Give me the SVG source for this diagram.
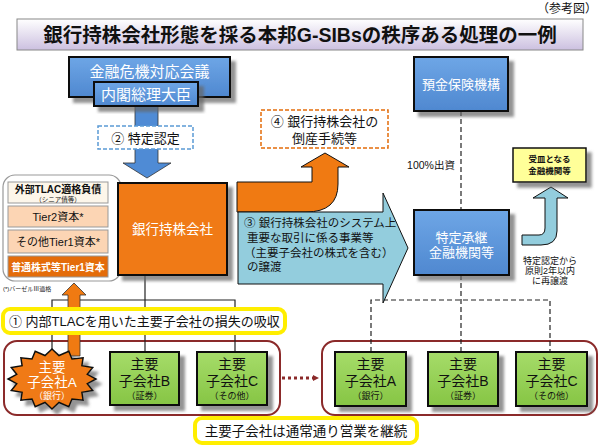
<svg xmlns="http://www.w3.org/2000/svg" width="600" height="446" viewBox="0 0 600 446">
<defs>
  <linearGradient id="gTitle" x1="0" y1="0" x2="0" y2="1">
    <stop offset="0" stop-color="#ffffff"/><stop offset="1" stop-color="#ccc0e0"/>
  </linearGradient>
  <linearGradient id="gBlue" x1="0" y1="0" x2="0" y2="1">
    <stop offset="0" stop-color="#6ea6e6"/><stop offset="1" stop-color="#4f88d0"/>
  </linearGradient>
  <linearGradient id="gGreen" x1="0" y1="0" x2="0" y2="1">
    <stop offset="0" stop-color="#a6dc6a"/><stop offset="1" stop-color="#86c544"/>
  </linearGradient>
  <filter id="sh" x="-20%" y="-20%" width="150%" height="150%">
    <feDropShadow dx="5" dy="5" stdDeviation="1.5" flood-color="#666" flood-opacity="0.7"/>
  </filter>
  <marker id="dotArrow" markerWidth="6" markerHeight="6" refX="5" refY="3" orient="auto" markerUnits="userSpaceOnUse">
    <path d="M0,0 L6,3 L0,6 Z" fill="#8b2a2a"/>
  </marker>
  <style>
    text{font-family:"Liberation Sans","Noto Sans CJK JP",sans-serif;}
    .w{fill:#fff;}
    .k{fill:#111;}
    .blue{fill:url(#gBlue);stroke:#111;stroke-width:2;filter:url(#sh);}
    .green{fill:url(#gGreen);stroke:#111;stroke-width:2;filter:url(#sh);}
    .orange{fill:#f07a12;stroke:#111;stroke-width:2;filter:url(#sh);}
    .ln{stroke:#222;stroke-width:1.2;fill:none;}
    .dash{stroke:#222;stroke-width:1.2;fill:none;stroke-dasharray:5,3;}
    .grp{fill:none;stroke:#8b2a2a;stroke-width:2;}
    .yel{fill:#fff;stroke:#ffee00;stroke-width:4;}
  </style>
</defs>

<!-- header -->
<text x="597" y="13" font-size="12" text-anchor="end" class="k">（参考図）</text>
<g id="title">
  <rect x="17" y="19" width="566" height="31" fill="url(#gTitle)" stroke="#888" stroke-width="1"/>
  <text x="300" y="41.5" font-size="19.5" font-weight="bold" text-anchor="middle" class="k">銀行持株会社形態を採る本邦G-SIBsの秩序ある処理の一例</text>
</g>

<!-- containers -->
<g id="group-left">
  <rect x="4" y="341" width="276" height="74" rx="13" class="grp"/>
</g>
<g id="group-right">
  <rect x="322" y="341" width="275" height="74" rx="13" class="grp"/>
</g>

<!-- connectors -->
<g id="connectors">
  <polyline class="ln" points="145,275 145,300"/>
  <polyline class="ln" points="52,355 52,300 235,300 235,352"/>
  <polyline class="ln" points="145,300 145,352"/>
  <line class="dash" x1="461" y1="111" x2="461" y2="210"/>
  <line class="dash" x1="461" y1="275" x2="461" y2="352"/>
  <polyline class="dash" points="371,352 371,300 550,300 550,352"/>
  <line x1="282" y1="378" x2="318" y2="378" stroke="#8b2a2a" stroke-width="3" stroke-dasharray="3,3" marker-end="url(#dotArrow)"/>
  <!-- block arrows -->
  <path d="M135,106 L158,106 L158,163 L171,163 L147,178 L123,163 L135,163 Z" fill="#4f8bd5" stroke="#333" stroke-width="0.8"/>
  <path d="M237,182 L312,182 L312,167 L301,167 L325,153 L349,167 L338,167 L338,184 Q338,212 306,212 L237,212 Z" fill="#f07a12" stroke="#111" stroke-width="1"/>
  <path d="M238,212 L383,212 L383,193 L408,248 L383,303 L383,284 L238,284 Z" fill="#93cddd" stroke="#111" stroke-width="1"/>
  <path d="M522,235 L539,235 Q545,235 545,228 L545,198 L533,198 L551,187 L568,198 L557,198 L557,231 Q557,245 541,245 L522,245 Z" fill="#93cddd" stroke="#111" stroke-width="1"/>
  <path d="M68,356 L68,295 L62,295 L74,283 L86,295 L80,295 L80,356 Z" fill="#f07a12" stroke="#333" stroke-width="0.8"/>
</g>

<!-- top-left authority -->
<g id="council">
  <rect x="69" y="57" width="161" height="40" class="blue"/>
  <text x="149.5" y="77" font-size="15" text-anchor="middle" class="w">金融危機対応会議</text>
</g>
<g id="pm">
  <rect x="94" y="82" width="104" height="24" class="blue"/>
  <text x="146" y="99.5" font-size="15" text-anchor="middle" class="w">内閣総理大臣</text>
</g>
<g id="designation">
  <rect x="98" y="126" width="95" height="23" fill="#fff" stroke="#5b9bd5" stroke-width="1.5" stroke-dasharray="4,2"/>
  <text x="145.5" y="143" font-size="13" text-anchor="middle" class="k">② 特定認定</text>
</g>

<!-- bankruptcy -->
<g id="bankruptcy">
  <rect x="261" y="110" width="127" height="38" fill="#fff" stroke="#e46c0a" stroke-width="1.5" stroke-dasharray="4,2"/>
  <text x="324.5" y="126" font-size="13" text-anchor="middle" class="k">④ 銀行持株会社の</text>
  <text x="324.5" y="143" font-size="13" text-anchor="middle" class="k">倒産手続等</text>
</g>

<!-- left capital stack -->
<g id="capital-stack">
  <rect x="3" y="175" width="118" height="106" rx="12" fill="#fff" stroke="#999" stroke-width="1.2"/>
  <rect x="8" y="182" width="100" height="21" fill="#fdf6ea" stroke="#999" stroke-width="1"/>
  <text x="58" y="193" font-size="10" font-weight="bold" text-anchor="middle" class="k">外部TLAC適格負債</text>
  <text x="58" y="201.5" font-size="6.5" text-anchor="middle" class="k">（シニア債等）</text>
  <rect x="8" y="206" width="100" height="21" fill="#fcd5b4" stroke="#999" stroke-width="1"/>
  <text x="58" y="221" font-size="11" text-anchor="middle" class="k">Tier2資本*</text>
  <rect x="8" y="230" width="100" height="23" fill="#fcd5b4" stroke="#999" stroke-width="1"/>
  <text x="58" y="245.5" font-size="11" text-anchor="middle" class="k">その他Tier1資本*</text>
  <rect x="8" y="256" width="100" height="21" fill="#e46c0a" stroke="#999" stroke-width="1"/>
  <text x="58" y="270.5" font-size="10" font-weight="bold" text-anchor="middle" class="w">普通株式等Tier1資本</text>
  <text x="3" y="291" font-size="6" class="k">(*)バーゼルⅢ適格</text>
</g>

<!-- holding company -->
<g id="holding">
  <rect x="118" y="183" width="109" height="92" class="orange"/>
  <text x="172.5" y="234" font-size="13.5" text-anchor="middle" class="w">銀行持株会社</text>
</g>

<!-- transfer text -->
<g id="transfer-label">
  <text x="244" y="227" font-size="11.5" class="k">③ 銀行持株会社のシステム上</text>
  <text x="247" y="242" font-size="11.5" class="k">重要な取引に係る事業等</text>
  <text x="244" y="256.5" font-size="11.5" class="k">（主要子会社の株式を含む）</text>
  <text x="247" y="271" font-size="11.5" class="k">の譲渡</text>
</g>

<!-- DICJ -->
<g id="dicj">
  <rect x="414" y="57" width="94" height="54" class="blue"/>
  <text x="461" y="88.5" font-size="13" text-anchor="middle" class="w">預金保険機構</text>
</g>
<text x="431" y="169" font-size="10.5" text-anchor="middle" class="k">100%出資</text>

<!-- bridge -->
<g id="bridge">
  <rect x="414" y="210" width="95" height="65" class="blue"/>
  <text x="461.5" y="242" font-size="13" text-anchor="middle" class="w">特定承継</text>
  <text x="461.5" y="257" font-size="13" text-anchor="middle" class="w">金融機関等</text>
</g>

<!-- acquirer -->
<g id="acquirer">
  <rect x="513" y="148" width="73" height="34" fill="#ffff99" stroke="#111" stroke-width="1.5" filter="url(#sh)"/>
  <text x="549.5" y="162" font-size="8.5" font-weight="bold" text-anchor="middle" class="k">受皿となる</text>
  <text x="549.5" y="174" font-size="8.5" font-weight="bold" text-anchor="middle" class="k">金融機関等</text>
</g>
<g id="retransfer-label">
  <text x="550" y="264" font-size="9" text-anchor="middle" class="k">特定認定から</text>
  <text x="550" y="274" font-size="9" text-anchor="middle" class="k">原則2年以内</text>
  <text x="550" y="284" font-size="9" text-anchor="middle" class="k">に再譲渡</text>
</g>

<!-- loss absorption label -->
<g id="loss-absorption">
  <rect x="3" y="309" width="282" height="24" rx="7" class="yel"/>
  <text x="9" y="326" font-size="13" class="k">① 内部TLACを用いた主要子会社の損失の吸収</text>
</g>

<!-- left subsidiaries -->
<g id="subA-left">
  <polygon points="96,379 87.3,383.7 92.7,390.5 81.9,392.3 83.1,400.2 72,399 68.8,406.7 59,402.5 52,409 45,402.5 35.2,406.7 32,399 20.9,400.2 22.1,392.3 11.3,390.5 16.7,383.7 8,379 16.7,374.3 11.3,367.5 22.1,365.7 20.9,357.8 32,359 35.2,351.3 45,355.5 52,349 59,355.5 68.8,351.3 72,359 83.1,357.8 81.9,365.7 92.7,367.5 87.3,374.3" fill="#f07a12" stroke="#111" stroke-width="1.5" filter="url(#sh)"/>
  <text x="52" y="372" font-size="13.5" text-anchor="middle" class="w">主要</text>
  <text x="52" y="387" font-size="13.5" text-anchor="middle" class="w">子会社A</text>
  <text x="52" y="399" font-size="9" text-anchor="middle" class="w">（銀行）</text>
</g>
<g id="subB-left">
  <rect x="110" y="352" width="69" height="53" class="green"/>
  <text x="144.5" y="369" font-size="14" text-anchor="middle" class="k">主要</text>
  <text x="144.5" y="386" font-size="14" text-anchor="middle" class="k">子会社B</text>
  <text x="144.5" y="399" font-size="9" text-anchor="middle" class="k">（証券）</text>
</g>
<g id="subC-left">
  <rect x="197" y="352" width="70" height="53" class="green"/>
  <text x="232" y="369" font-size="14" text-anchor="middle" class="k">主要</text>
  <text x="232" y="386" font-size="14" text-anchor="middle" class="k">子会社C</text>
  <text x="232" y="399" font-size="9" text-anchor="middle" class="k">（その他）</text>
</g>

<!-- right subsidiaries -->
<g id="subA-right">
  <rect x="335" y="352" width="71" height="54" class="green"/>
  <text x="370.5" y="369" font-size="14" text-anchor="middle" class="k">主要</text>
  <text x="370.5" y="386" font-size="14" text-anchor="middle" class="k">子会社A</text>
  <text x="370.5" y="399" font-size="9" text-anchor="middle" class="k">（銀行）</text>
</g>
<g id="subB-right">
  <rect x="428" y="352" width="70" height="54" class="green"/>
  <text x="463" y="369" font-size="14" text-anchor="middle" class="k">主要</text>
  <text x="463" y="386" font-size="14" text-anchor="middle" class="k">子会社B</text>
  <text x="463" y="399" font-size="9" text-anchor="middle" class="k">（証券）</text>
</g>
<g id="subC-right">
  <rect x="516" y="352" width="71" height="54" class="green"/>
  <text x="551.5" y="369" font-size="14" text-anchor="middle" class="k">主要</text>
  <text x="551.5" y="386" font-size="14" text-anchor="middle" class="k">子会社C</text>
  <text x="551.5" y="399" font-size="9" text-anchor="middle" class="k">（その他）</text>
</g>

<!-- continue label -->
<g id="continue">
  <rect x="195" y="418" width="222" height="25" rx="7" class="yel"/>
  <text x="306" y="436" font-size="13.5" text-anchor="middle" class="k">主要子会社は通常通り営業を継続</text>
</g>
</svg>
